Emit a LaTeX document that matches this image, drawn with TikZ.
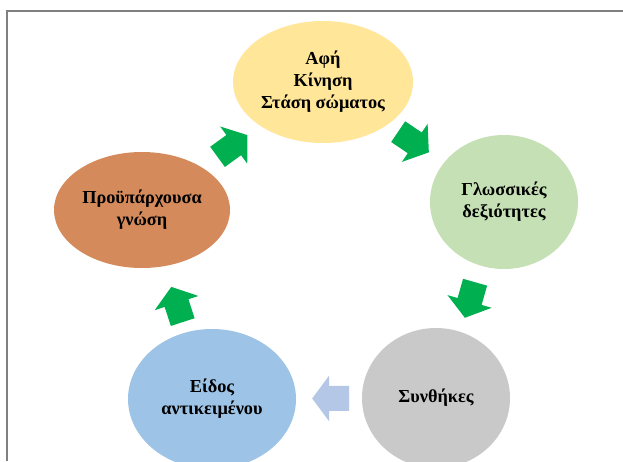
\documentclass[tikz,border=0pt]{standalone}
\usepackage{fontspec}
\setmainfont{Liberation Serif}
\usetikzlibrary{shapes.geometric,calc}
\definecolor{cyellow}{HTML}{FFE699}
\definecolor{cgreen}{HTML}{C5E0B4}
\definecolor{corange}{HTML}{D48A5B}
\definecolor{cblue}{HTML}{9DC3E6}
\definecolor{cgray}{HTML}{C9C9C9}
\definecolor{arrgreen}{HTML}{00B050}
\definecolor{arrblue}{HTML}{B4C7E7}
\definecolor{framegray}{HTML}{808080}
\tikzset{
  bubble/.style={ellipse, inner sep=0pt, align=center,
    font=\fontsize{18.3}{22}\selectfont\bfseries},
  pics/cyclearrow/.style={code={
    \fill[#1] (-18.5,-12.5) -- (1.5,-12.5) -- (1.5,-23) -- (18.5,0)
      -- (1.5,23) -- (1.5,12.5) -- (-18.5,12.5) -- cycle;}},
  frameline/.style={draw=framegray, line width=2pt}
}
\begin{document}
\begin{tikzpicture}[x=1pt,y=-1pt]
\useasboundingbox (0,0) rectangle (623,461);
\clip (0,0) rectangle (623,461);
\fill[white] (0,0) rectangle (623,461);
\coordinate (fa) at (7,461);
\coordinate (fb) at (7,11);
\coordinate (fc) at (623,11);
\draw[frameline] (fa) -- (fb) -- (fc);

\node[bubble, fill=cyellow, minimum width=180pt, minimum height=122pt] (yellow) at (323,82) {Αφή\\Κίνηση\\Στάση σώματος};
\node[bubble, fill=cgreen, minimum width=148pt, minimum height=134pt] (green) at (504,202) {Γλωσσικές\\δεξιότητες};
\node[bubble, fill=cgray, minimum width=148pt, minimum height=140pt] (gray) at (436,398) {Συνθήκες};
\node[bubble, fill=cblue, minimum width=168pt, minimum height=140pt] (blue) at (212,399) {Είδος\\αντικειμένου};
\node[bubble, fill=corange, minimum width=176pt, minimum height=116pt] (orange) at (142,210) {Προϋπάρχουσα\\γνώση};

\pic[rotate=36] at ($(orange)!0.5!(yellow)$) {cyclearrow=arrgreen};
\pic[rotate=-34] at ($(yellow)!0.5!(green)$) {cyclearrow=arrgreen};
\pic[rotate=-106] at ($(green)!0.5!(gray)$) {cyclearrow=arrgreen};
\pic[rotate=180] at ($(gray)!0.47!(blue)$) {cyclearrow=arrblue};
\pic[rotate=108] at ($(blue)!0.5!(orange)$) {cyclearrow=arrgreen};
\end{tikzpicture}
\end{document}
